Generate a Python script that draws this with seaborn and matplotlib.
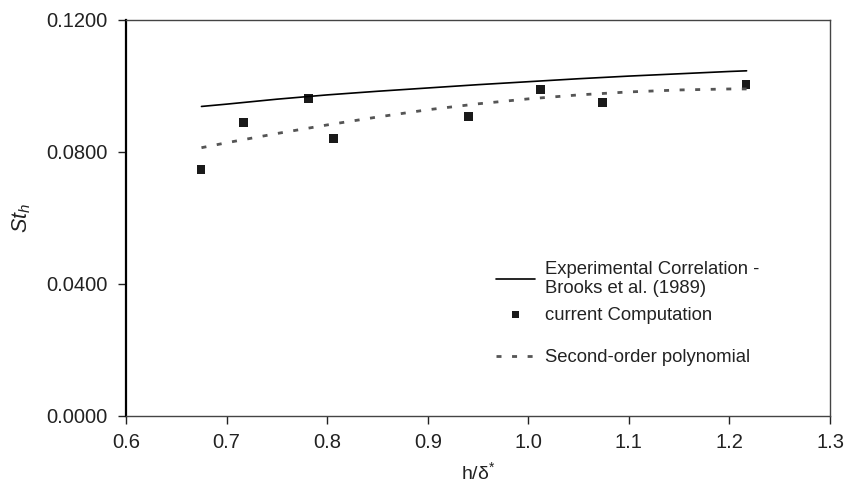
import matplotlib
matplotlib.use("Agg")
import matplotlib.pyplot as plt
import seaborn as sns
import pandas as pd

# valeurs
corr_x = [0.675, 0.7, 0.75, 0.8, 0.85, 0.9, 0.95, 1.0, 1.05, 1.1, 1.15, 1.2, 1.217]
corr_y = [0.0938, 0.0945, 0.0960, 0.0973, 0.0984, 0.0994, 0.1004, 0.1013, 0.1022, 0.1030, 0.1037, 0.1044, 0.1046]

comp_x = [0.6745, 0.717, 0.7817, 0.8066, 0.9403, 1.0121, 1.074, 1.2164]
comp_y = [0.0748, 0.0889, 0.0963, 0.0840, 0.0907, 0.0990, 0.0951, 0.1005]

poly_x = [0.675, 0.7, 0.75, 0.8, 0.85, 0.9, 0.95, 1.0, 1.05, 1.1, 1.15, 1.2, 1.217]
poly_y = [0.0813, 0.0828, 0.0856, 0.0882, 0.0906, 0.0928, 0.0946, 0.0961, 0.0973, 0.0982, 0.0988, 0.0991, 0.0991]

yticks = [0.0, 0.04, 0.08, 0.12]
xticks = [0.6, 0.7, 0.8, 0.9, 1.0, 1.1, 1.2, 1.3]

sns.set_style("white")
plt.rcParams['font.family'] = ['Liberation Sans', 'DejaVu Sans']
plt.rcParams['mathtext.fontset'] = 'custom'
plt.rcParams['mathtext.rm'] = 'Liberation Sans'
plt.rcParams['mathtext.it'] = 'Liberation Sans:italic'

fig = plt.figure(figsize=(8.47, 4.84), dpi=100)
ax = fig.add_axes([0.1488, 0.1405, 0.8312, 0.8182])

df_corr = pd.DataFrame({"x": corr_x, "y": corr_y})
df_comp = pd.DataFrame({"x": comp_x, "y": comp_y})
df_poly = pd.DataFrame({"x": poly_x, "y": poly_y})

sns.lineplot(data=df_corr, x="x", y="y", ax=ax, color="black", lw=1.2,
             sort=False, label="Experimental Correlation -\nBrooks et al. (1989)")
sns.scatterplot(data=df_comp, x="x", y="y", ax=ax, marker="s", s=40,
                color="#1a1a1a", edgecolor="none", label="current Computation")
sns.lineplot(data=df_poly, x="x", y="y", ax=ax, color="#555555", lw=2.0,
             sort=False, linestyle=(0, (1.8, 3.8)), label="Second-order polynomial")

ax.set_xlim(0.6, 1.3)
ax.set_ylim(0.0, 0.12)
ax.set_xticks(xticks)
ax.set_yticks(yticks)
ax.set_xticklabels([f"{v:.1f}" for v in xticks])
ax.set_yticklabels([f"{v:.4f}" for v in yticks])
ax.tick_params(axis="both", direction="out", length=6, width=1, labelsize=14.5,
               colors="#222222", left=True, bottom=True)
ax.tick_params(axis="x", pad=6)
ax.tick_params(axis="y", pad=7)

for side in ["top", "right", "bottom"]:
    ax.spines[side].set_color("#444444")
    ax.spines[side].set_linewidth(1.0)
ax.spines["left"].set_color("black")
ax.spines["left"].set_linewidth(1.6)

ax.set_xlabel("h/δ$^{*}$", fontsize=14, labelpad=7, color="#222222")
ax.set_ylabel(r"$St_h$", fontsize=15.5, labelpad=10, color="#222222")

handles, labels = ax.get_legend_handles_labels()
leg1 = ax.legend(handles[:2], labels[:2], loc="upper left", bbox_to_anchor=(0.5257, 0.392),
                 frameon=False, fontsize=13.3, handlelength=2.1,
                 labelspacing=0.5, handletextpad=0.55, borderaxespad=0, borderpad=0)
leg1.legend_handles[1].set_sizes([26])
ax.add_artist(leg1)
leg2 = ax.legend(handles[2:], labels[2:], loc="center left", bbox_to_anchor=(0.5257, 0.147),
                 frameon=False, fontsize=13.3, handlelength=2.1,
                 handletextpad=0.55, borderaxespad=0, borderpad=0)
for lg in (leg1, leg2):
    for t in lg.get_texts():
        t.set_color("#222222")

fig.savefig("out.png", dpi=100)
